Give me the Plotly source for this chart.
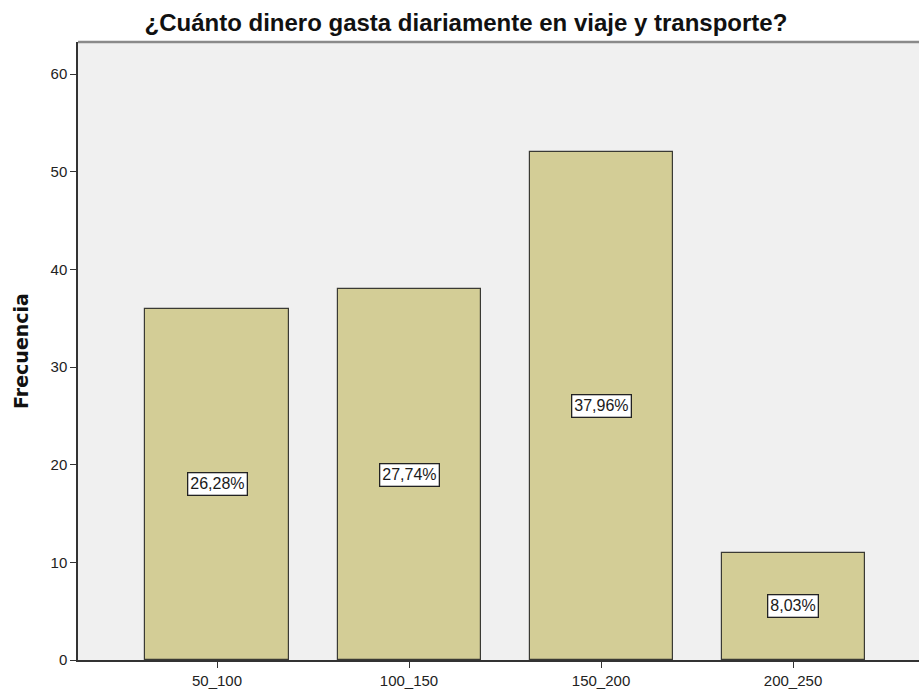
import plotly.graph_objects as go

categorias = ['50_100', '100_150', '150_200', '200_250']
frecuencia = [36, 38, 52, 11]
porcentaje = ['26,28%', '27,74%', '37,96%', '8,03%']

fig = go.Figure(go.Bar(
    x=categorias, y=frecuencia, width=0.745,
    marker=dict(color='#d3cd96', line=dict(color='#3a3a34', width=1.2)),
    hoverinfo='skip'))

# etiquetas de porcentaje en medio de cada barra
for c, f, p in zip(categorias, frecuencia, porcentaje):
    fig.add_annotation(x=c, y=f / 2, text=p, showarrow=False,
                       font=dict(family='Liberation Sans, Arial', size=16, color='#1a1a1a'),
                       bgcolor='white', bordercolor='#222', borderwidth=1.3, borderpad=2)

fig.add_shape(type='line', xref='paper', yref='paper', x0=0, x1=1, y0=1, y1=1,
              line=dict(color='#8a8a8a', width=2.5))

fig.update_layout(
    width=919, height=691,
    margin=dict(l=78, r=0, t=42, b=31),
    paper_bgcolor='white', plot_bgcolor='#f0f0f0',
    font=dict(family='Liberation Sans, Arial', size=15, color='#222'),
    title=dict(text='<b>¿Cuánto dinero gasta diariamente en viaje y transporte?</b>',
               x=0.507, xref='container', xanchor='center',
               y=0.968, yref='container', yanchor='middle',
               font=dict(size=24, color='#111')),
    showlegend=False,
    bargap=0,
)
fig.update_xaxes(range=[-0.724, 3.656], showgrid=False, showline=True, linecolor='#333',
                 linewidth=1.5, ticks='outside', ticklen=6, tickcolor='#333', zeroline=False)
fig.update_yaxes(range=[0, 63.3], tickvals=[0, 10, 20, 30, 40, 50, 60], showgrid=False,
                 showline=True, linecolor='#333', linewidth=1.5, ticks='outside', ticklen=6,
                 tickcolor='#333', zeroline=False,
                 title=dict(text='<b>Frecuencia</b>', standoff=17,
                            font=dict(family='DejaVu Sans', size=19, color='#111')))

# quitar el margen de 8px del body para que la figura ocupe toda la ventana
fig.write_html("out.html", config={'displayModeBar': False},
               post_script="document.body.style.margin='0';document.body.style.overflow='hidden';")
